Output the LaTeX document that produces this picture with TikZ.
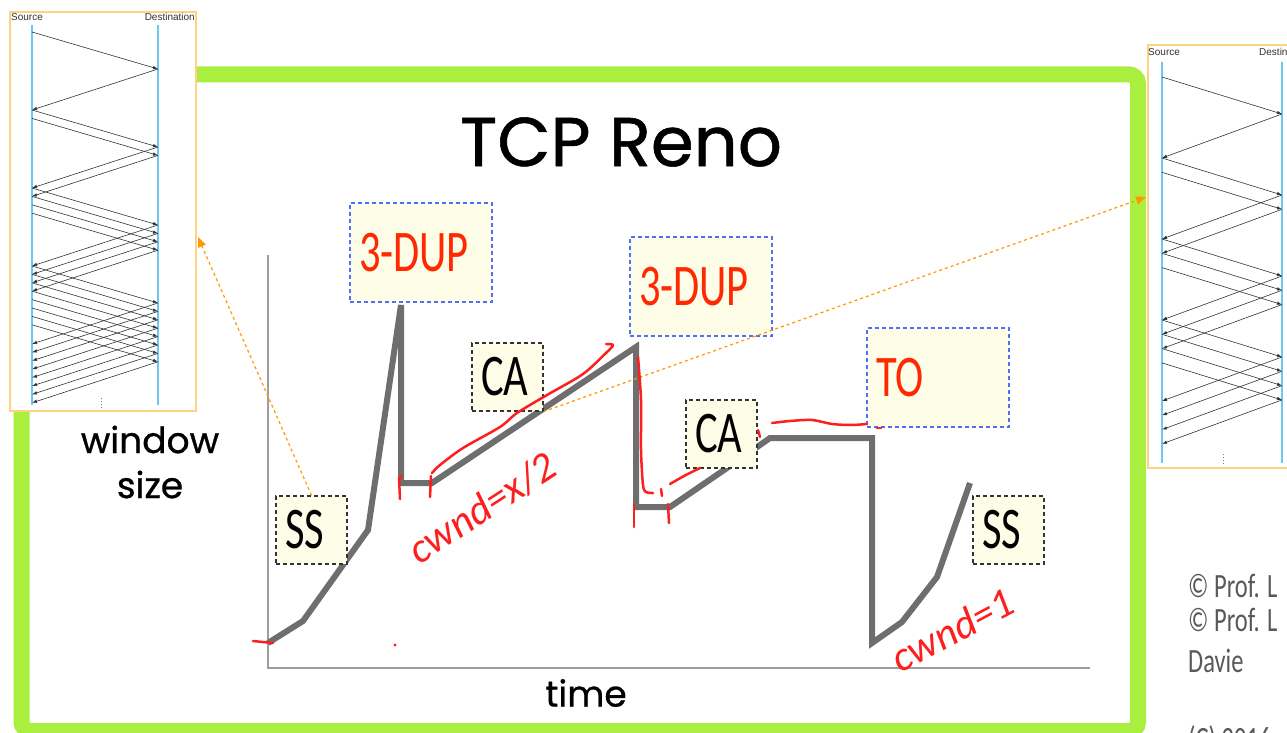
\documentclass[tikz,border=0pt]{standalone}
\usepackage{fontspec}
\setmainfont{Liberation Sans}
\newfontfamily\slidefont[FakeStretch=0.72]{Carlito}
\newfontfamily\titlefont[FakeBold=0.8]{Poppins}
\newfontfamily\handfont{Carlito}
\usetikzlibrary{arrows.meta}
\definecolor{slidegreen}{RGB}{170,238,64}
\definecolor{insetorange}{RGB}{255,210,130}
\definecolor{lifeblue}{RGB}{108,200,240}
\definecolor{notefill}{RGB}{253,253,232}
\definecolor{dupblue}{RGB}{80,110,250}
\definecolor{dupred}{RGB}{255,40,0}
\definecolor{inkred}{RGB}{255,30,30}
\definecolor{hintorange}{RGB}{255,153,0}
\tikzstyle{notebox} = [rectangle, draw, fill=notefill, dash pattern=on 4pt off 3pt, line width=1.2pt, inner sep=9pt, align=left, font=\slidefont\fontsize{59}{59}\selectfont]
\tikzstyle{dupbox} = [notebox, draw=dupblue, text=dupred, minimum width=142pt, minimum height=99pt, text width=124pt]
\tikzstyle{phasebox} = [notebox, draw=black!80, minimum width=71pt, minimum height=68pt, text width=53pt]
\tikzstyle{inset} = [rectangle, draw=insetorange, line width=2pt, fill=white]
\tikzset{pkt/.style = {draw=black!80, line width=0.6pt,
    -{Latex[length=5pt,width=3.5pt]},
  },
  lifeline/.style = {lifeblue, line width=1.3pt},
  hint/.style = {hintorange, dashed, line width=1.2pt,
    -{Triangle[length=10pt,width=8pt]},
  },
  ink/.style = {inkred, line width=2.5pt, line cap=round, line join=round},
  pennote/.style = {text=inkred, inner sep=0pt, font=\handfont\itshape\fontsize{42}{42}\selectfont},
  credit/.style = {anchor=base west, inner sep=0pt, text=black!65, font=\slidefont\fontsize{34}{34}\selectfont},
  axis/.style = {black!38, line width=2pt},
  cwnd/.style = {black!57, line width=6pt},
}

\begin{document}
\begin{tikzpicture}[x=1pt, y=-1pt]
  \useasboundingbox (0,0) rectangle (1287,733);

  % slide frame
  \draw[slidegreen, line width=16pt, rounded corners=9pt] (21.5,74.5) rectangle (1138,731);
  \node[font=\titlefont\fontsize{69}{69}\selectfont] (title) at (621,142) {TCP Reno};

  % left inset: slow start
  \node[inset, minimum width=186pt, minimum height=399pt] (linset) at (103,211.5) {};
  \node[anchor=west, inner sep=0, font=\fontsize{10}{10}\selectfont, text=black!80] (lsrc) at (11,17) {Source};
  \node[anchor=east, inner sep=0, font=\fontsize{10}{10}\selectfont, text=black!80] (ldst) at (195,17) {Destination};
  \draw[lifeline] (32,25) -- (32,405);
  \draw[lifeline] (158,25) -- (158,405);
  \foreach \ts/\nk in {32/0,110/1,188/3,266/7} {
    \foreach \k in {0,...,\nk} {
      \draw[pkt] (32,\ts+\k*8.4) -- (158,\ts+\k*8.4+37);
      \draw[pkt] (158,\ts+\k*8.4+37) -- (32,\ts+\k*8.4+78);
    }
  }
  \draw[black!50, dotted, line width=1pt] (101,398) -- (101,409);

  % right inset: congestion avoidance
  \node[inset, minimum width=152pt, minimum height=423pt] (rinset) at (1224,256.5) {};
  \node[anchor=west, inner sep=0, font=\fontsize{10}{10}\selectfont, text=black!80] (rsrc) at (1148,52) {Source};
  \node[anchor=west, inner sep=0, font=\fontsize{10}{10}\selectfont, text=black!80] (rdst) at (1259,52) {Destination};
  \draw[lifeline] (1162,62) -- (1162,463);
  \draw[lifeline] (1282,62) -- (1282,463);
  \foreach \ts/\nk in {77/0,158/1,239/2,320/3} {
    \foreach \k in {0,...,\nk} {
      \draw[pkt] (1162,\ts+\k*14.3) -- (1282,\ts+\k*14.3+37);
      \draw[pkt] (1282,\ts+\k*14.3+37) -- (1162,\ts+\k*14.3+81);
    }
  }
  \draw[black!50, dotted, line width=1pt] (1223,454) -- (1223,465);

  % axes
  \draw[axis] (268,255) -- (268,668) -- (1090,668);
  \node[align=center, font=\titlefont\fontsize{36}{45}\selectfont] (ylabel) at (150,462) {window\\size};
  \node[font=\titlefont\fontsize{36}{36}\selectfont] (xlabel) at (586,693) {time};

  % window curve
  \draw[cwnd] (268,643) -- (303,621) -- (368,530) -- (401,305) -- (401,483)
    -- (432,483) -- (636,347) -- (636,507) -- (670,507) -- (727,468)
    -- (770,438) -- (872,438) -- (872,643) -- (902,622) -- (937,577) -- (970,483);

  % labels
  \node[dupbox] (dup1) at (421,252.5) {3-DUP};
  \node[dupbox] (dup2) at (701,286.5) {3-DUP};
  \node[dupbox] (to) at (938,377.5) {TO};
  \node[phasebox] (ca1) at (507.5,377) {CA};
  \node[phasebox] (ca2) at (721.5,434) {CA};
  \node[phasebox] (ss1) at (311.5,530) {SS};
  \node[phasebox] (ss2) at (1008.5,530) {SS};

  % links to the insets
  \coordinate (lhint) at (198,237);
  \coordinate (rhint) at (1146,197);
  \draw[hint] (ss1.north) -- (lhint);
  \draw[hint] (ca1.south east) -- (rhint);

  % pen notes
  \draw[ink] plot[smooth] coordinates {(432,473) (440,465) (463,448) (500,427) (517,413)
    (547,395) (583,374) (607,352) (613,345) (606,344)};
  \draw[ink] (402,476) -- (399,478) -- (400,499);
  \draw[ink] (431,476) -- (430,497);
  \draw[ink] (634,504) -- (634,527);
  \draw[ink] (668,504) -- (669,523);
  \draw[ink] plot[smooth] coordinates {(638,357) (641,400) (641,450) (643,485) (646,492) (653,493)};
  \draw[ink] (661,489) -- (662,496);
  \draw[ink] plot[smooth] coordinates {(670,484) (684,476) (700,468)};
  \draw[ink] (758,430) -- (760,437);
  \draw[ink] plot[smooth] coordinates {(772,423) (790,421) (812,420) (832,424) (851,425) (867,424)};
  \draw[ink] (877,428) -- (881,428);
  \draw[ink] (253,641) -- (273,643);
  \fill[inkred] (395,645) circle (1.6);
  \node[pennote, rotate=33] (halfnote) at (482,508) {cwnd=x/2};
  \node[pennote, rotate=28] (onenote) at (952,630) {cwnd=1};

  % credits
  \node[credit] (credit1) at (1188,597) {© Prof. L};
  \node[credit] (credit2) at (1188,631) {© Prof. L};
  \node[credit] (credit3) at (1188,672) {Davie};
  \node[credit] (credit4) at (1188,750) {(C) 2016};
\end{tikzpicture}
\end{document}
